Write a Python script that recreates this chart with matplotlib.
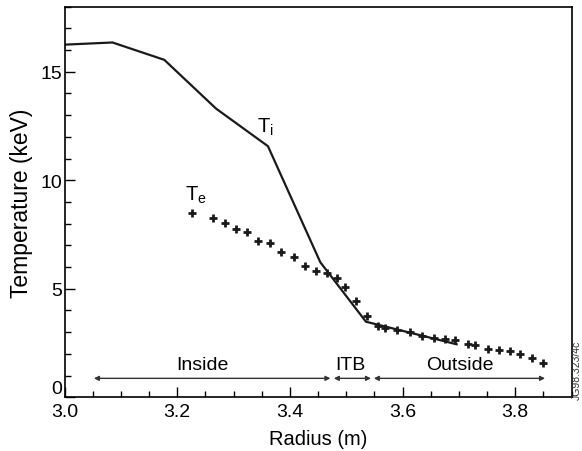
# Ion and electron temperature profiles across the ITB

import matplotlib.pyplot as plt
from matplotlib.ticker import MultipleLocator

plt.rcParams['font.family'] = ['Liberation Sans', 'DejaVu Sans']

# T_i (solid line)
r_ti = [3.0, 3.085, 3.177, 3.269, 3.361, 3.454, 3.535, 3.696]
t_ti = [16.25, 16.35, 15.55, 13.3, 11.57, 6.22, 3.48, 2.44]

# T_e (crosses)
r_te = [3.226, 3.264, 3.284, 3.304, 3.323, 3.344, 3.364, 3.384, 3.407, 3.427,
        3.446, 3.465, 3.484, 3.497, 3.517, 3.537, 3.556, 3.569, 3.591, 3.613,
        3.634, 3.655, 3.675, 3.694, 3.716, 3.729, 3.751, 3.771, 3.790, 3.809,
        3.829, 3.849]
t_te = [8.50, 8.24, 8.01, 7.76, 7.62, 7.22, 7.13, 6.70, 6.47, 6.05,
        5.80, 5.73, 5.51, 5.08, 4.45, 3.73, 3.26, 3.18, 3.08, 2.99,
        2.82, 2.75, 2.70, 2.62, 2.44, 2.39, 2.24, 2.18, 2.12, 2.01,
        1.79, 1.56]

# regions: (label, start, end)
regioes = [("Inside", 3.052, 3.472), ("ITB", 3.478, 3.544), ("Outside", 3.549, 3.853)]

fig = plt.figure(figsize=(5.82, 4.52), dpi=100)
ax = fig.add_axes([0.111, 0.119, 0.871, 0.864])

ax.plot(r_ti, t_ti, color='#1a1a1a', lw=1.6)
ax.plot(r_te, t_te, ls='none', marker='+', ms=6, mew=2, color='#1a1a1a')

for nome, a, b in regioes:
    ax.annotate('', xy=(a, 0.87), xytext=(b, 0.87),
                arrowprops=dict(arrowstyle='<|-|>', color='#333333', lw=1,
                                mutation_scale=7, shrinkA=0, shrinkB=0))
ax.text(3.245, 1.5, "Inside", ha='center', va='center', fontsize=14)
ax.text(3.507, 1.5, "ITB", ha='center', va='center', fontsize=14)
ax.text(3.701, 1.5, "Outside", ha='center', va='center', fontsize=14)

ax.text(3.357, 12.5, r"T$_\mathregular{i}$", ha='center', va='center', fontsize=14.5)
ax.text(3.233, 9.35, r"T$_\mathregular{e}$", ha='center', va='center', fontsize=14.5)

ax.set_xlim(3.0, 3.9)
ax.set_ylim(0, 18)
ax.set_xticks([3.0, 3.2, 3.4, 3.6, 3.8])
ax.set_xticklabels(["3.0", "3.2", "3.4", "3.6", "3.8"])
ax.set_yticks([0, 5, 10, 15])
ax.xaxis.set_minor_locator(MultipleLocator(0.05))
ax.yaxis.set_minor_locator(MultipleLocator(1))
ax.tick_params(which='both', direction='in', labelsize=14, width=1)
ax.tick_params(which='major', length=7)
ax.tick_params(which='minor', length=4)
ax.tick_params(axis='y', pad=2)
ax.tick_params(axis='x', pad=4.5)
for s in ax.spines.values():
    s.set_linewidth(1.2)

# the "0" sits a bit above its tick, clear of "3.0"
ax.get_yticklabels()[0].set_va('bottom')

ax.set_xlabel("Radius (m)", fontsize=14.5, labelpad=6)
ax.set_ylabel("Temperature (keV)", fontsize=16.5, labelpad=5)

fig.text(0.991, 0.18, "JG98.323/4c", rotation=90, fontsize=7.5, ha='center', va='center', color='#333333')

plt.savefig("out.png", dpi=100)
